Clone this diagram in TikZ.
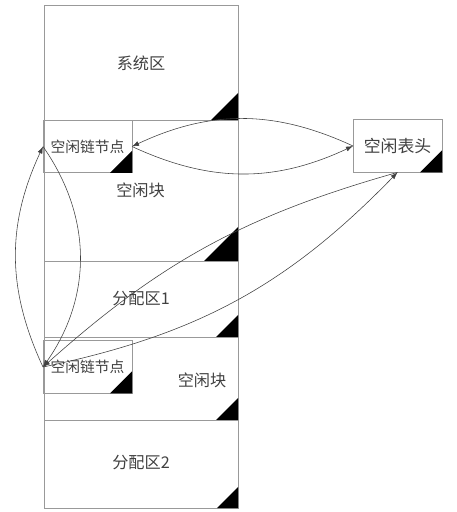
\documentclass[tikz,border=0pt]{standalone}
\usepackage{fontspec}
\newfontfamily\cjk{Noto Sans CJK SC}
\usetikzlibrary{arrows.meta, positioning}
\tikzset{
	zone/.style={draw=black!40, line width=0.6pt},
	zonetext/.style={font=\cjk\fontsize{11.5}{12}\selectfont, text=black!75},
	listnode/.style={draw=black!40, line width=0.6pt, outer sep=0pt, minimum width=2.225cm, minimum height=1.32cm, inner sep=1pt, font=\cjk\fontsize{10.5}{11}\selectfont, text=black!75},
	link/.style={draw=black!75, line width=0.4pt, -{Latex[length=5pt,width=3.5pt]}}
}
\begin{document}
\begin{tikzpicture}[x=0.25cm, y=-0.25cm]
	\useasboundingbox (0,0) rectangle (45.6,51.2);
	
	%//memory column, top to bottom
	\foreach \ya/\yb/\s in {0.5/12.0/2.7, 12.0/26.1/3.4, 26.1/33.7/2.2, 33.7/42.0/2.2, 42.0/50.8/2.1}
	{
		\draw[zone] (4.4,\ya) rectangle (23.8,\yb);
		\fill (23.8,\yb) -- (23.8-\s,\yb) -- (23.8,\yb-\s) -- cycle;
	}
	
	\node[zonetext] (sys) at (14.1,6.3) {系统区};
	\node[zonetext] (free1) at (14.05,19.0) {空闲块};
	\node[zonetext] (alloc1) at (14.1,29.9) {分配区1};
	\node[zonetext] (free2) at (20.2,38.0) {空闲块};
	\node[zonetext] (alloc2) at (14.1,46.3) {分配区2};
	
	%//free list nodes and head
	\node[listnode] (n1) at (8.75,14.65) {空闲链节点};
	\node[listnode] (n2) at (8.75,36.7) {空闲链节点};
	\node[listnode, font=\cjk\fontsize{12}{13}\selectfont] (head) at (39.75,14.6) {空闲表头};
	
	\foreach \n in {n1,n2,head}
	\fill (\n.south east) -- ++(-2.2,0) -- ++(2.2,-2.2) -- cycle;
	
	%//links
	\draw[link] (head.west) to[bend right=25] (n1.east);
	\draw[link] (n1.east) to[bend right=25] (head.west);
	\draw[link] (n2.west) to[bend left=25] (n1.west);
	\draw[link] (n1.west) to[bend left=35] (n2.west);
	\draw[link] (head.south) to[bend right=13] (n2.west);
	\draw[link] (n2.west) to[bend right=17] (head.south);
\end{tikzpicture}
\end{document}
